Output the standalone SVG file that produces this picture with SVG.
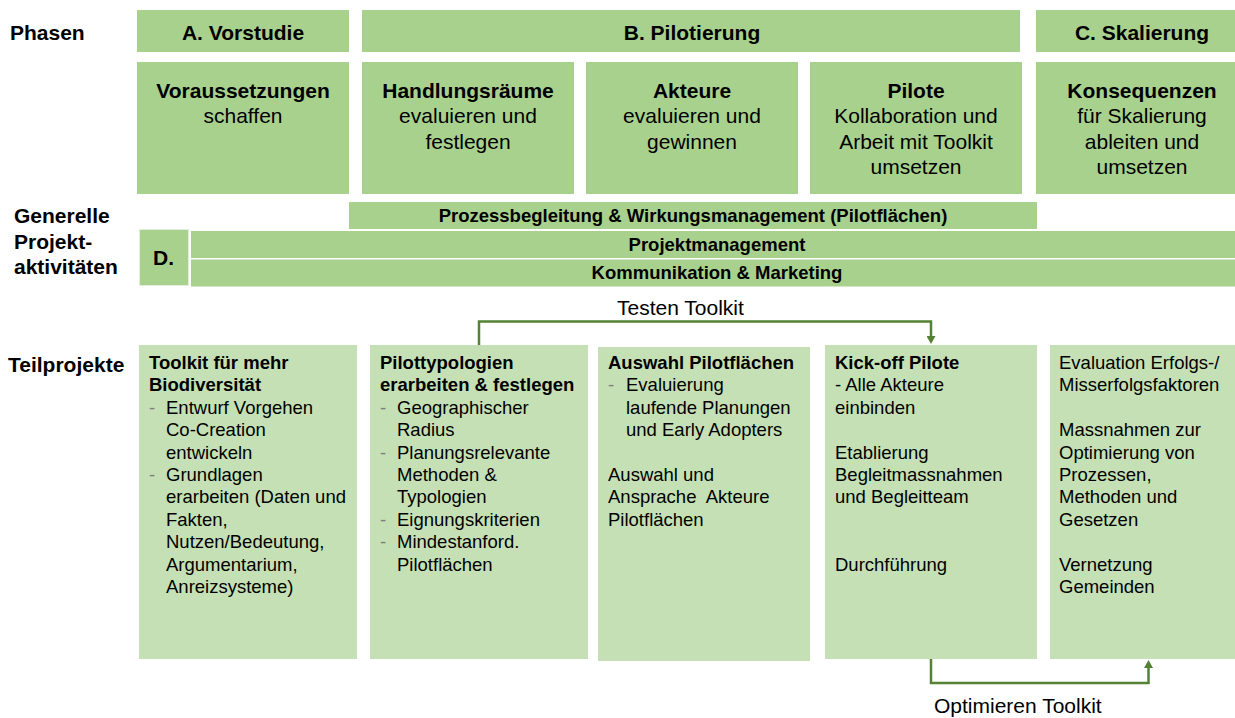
<svg xmlns="http://www.w3.org/2000/svg" width="1235" height="718" viewBox="0 0 1235 718">
<defs>
<style>
text{font-family:"Liberation Sans",Arial,sans-serif;fill:#000}
.h{font-size:21px;font-weight:bold}
.hm{font-size:21px;text-anchor:middle}
.b{font-size:18.5px;font-weight:bold}
.bm{font-size:18.5px;font-weight:bold;text-anchor:middle}
.t{font-size:18.5px}
.d{font-size:18.5px;fill:#7f7f7f}
.lbl{font-size:21px}
.dark{fill:#a9d18e}
.light{fill:#c5e0b4}
.conn{fill:none;stroke:#548235;stroke-width:2.5}
</style>
<marker id="ah" viewBox="0 0 10 10" refX="0" refY="5" markerWidth="8" markerHeight="9" markerUnits="userSpaceOnUse" orient="auto" preserveAspectRatio="none">
<path d="M0,0 L10,5 L0,10 z" fill="#548235"/>
</marker>
</defs>
<rect width="1235" height="718" fill="#fff"/>

<g id="labels">
<text class="h" x="10" y="40">Phasen</text>
<text class="h" x="14" y="223">Generelle</text>
<text class="h" x="14" y="249">Projekt-</text>
<text class="h" x="14" y="274">aktivitäten</text>
<text class="h" x="8" y="372">Teilprojekte</text>
</g>

<g id="phaseA"><rect class="dark" x="137" y="10" width="212" height="42"/><text class="h" x="243" y="40" text-anchor="middle">A. Vorstudie</text></g>
<g id="phaseB"><rect class="dark" x="362" y="10" width="658" height="42"/><text class="h" x="692" y="40" text-anchor="middle">B. Pilotierung</text></g>
<g id="phaseC"><rect class="dark" x="1036" y="10" width="199" height="42"/><text class="h" x="1142" y="40" text-anchor="middle">C. Skalierung</text></g>

<g id="voraussetzungen"><rect class="dark" x="137" y="62" width="212" height="132"/>
<text class="hm" x="243" y="98"><tspan font-weight="bold">Voraussetzungen</tspan><tspan x="243" dy="25.3">schaffen</tspan></text></g>
<g id="handlungsraeume"><rect class="dark" x="362" y="62" width="212" height="132"/>
<text class="hm" x="468" y="98"><tspan font-weight="bold">Handlungsräume</tspan><tspan x="468" dy="25.3">evaluieren und</tspan><tspan x="468" dy="25.3">festlegen</tspan></text></g>
<g id="akteure"><rect class="dark" x="586" y="62" width="212" height="132"/>
<text class="hm" x="692" y="98"><tspan font-weight="bold">Akteure</tspan><tspan x="692" dy="25.3">evaluieren und</tspan><tspan x="692" dy="25.3">gewinnen</tspan></text></g>
<g id="pilote"><rect class="dark" x="810" y="62" width="212" height="132"/>
<text class="hm" x="916" y="98"><tspan font-weight="bold">Pilote</tspan><tspan x="916" dy="25.3">Kollaboration und</tspan><tspan x="916" dy="25.3">Arbeit mit Toolkit</tspan><tspan x="916" dy="25.3">umsetzen</tspan></text></g>
<g id="konsequenzen"><rect class="dark" x="1036" y="62" width="199" height="132"/>
<text class="hm" x="1142" y="98"><tspan font-weight="bold">Konsequenzen</tspan><tspan x="1142" dy="25.3">für Skalierung</tspan><tspan x="1142" dy="25.3">ableiten und</tspan><tspan x="1142" dy="25.3">umsetzen</tspan></text></g>

<g id="prozessbegleitung"><rect class="dark" x="349" y="202" width="688" height="27"/><text class="bm" x="693" y="222">Prozessbegleitung &amp; Wirkungsmanagement (Pilotflächen)</text></g>
<g id="phaseD"><rect class="dark" x="139.5" y="229.5" width="49" height="56" stroke="#e2efda" stroke-width="1"/><text class="h" x="153" y="265">D.</text></g>
<g id="projektmanagement"><rect class="dark" x="191" y="231" width="1044" height="27"/><text class="bm" x="717" y="251">Projektmanagement</text></g>
<g id="kommunikation"><rect class="dark" x="191" y="259.5" width="1044" height="27"/><text class="bm" x="717" y="279">Kommunikation &amp; Marketing</text></g>

<g id="toolkit"><rect class="light" x="139" y="345" width="218" height="314"/>
<text class="b" x="149" y="369">Toolkit für mehr</text>
<text class="b" x="149" y="391.4">Biodiversität</text>
<text class="d" x="149" y="413.8">-</text>
<text class="t" x="166" y="413.8">Entwurf Vorgehen</text>
<text class="t" x="166" y="436.2">Co-Creation</text>
<text class="t" x="166" y="458.6">entwickeln</text>
<text class="d" x="149" y="481">-</text>
<text class="t" x="166" y="481">Grundlagen</text>
<text class="t" x="166" y="503.4">erarbeiten (Daten und</text>
<text class="t" x="166" y="525.8">Fakten,</text>
<text class="t" x="166" y="548.2">Nutzen/Bedeutung,</text>
<text class="t" x="166" y="570.6">Argumentarium,</text>
<text class="t" x="166" y="593">Anreizsysteme)</text>
</g>

<g id="pilottypologien"><rect class="light" x="370" y="345" width="218" height="314"/>
<text class="b" x="380" y="369">Pilottypologien</text>
<text class="b" x="380" y="391.4">erarbeiten &amp; festlegen</text>
<text class="d" x="380" y="413.8">-</text>
<text class="t" x="397" y="413.8">Geographischer</text>
<text class="t" x="397" y="436.2">Radius</text>
<text class="d" x="380" y="458.6">-</text>
<text class="t" x="397" y="458.6">Planungsrelevante</text>
<text class="t" x="397" y="481">Methoden &amp;</text>
<text class="t" x="397" y="503.4">Typologien</text>
<text class="d" x="380" y="525.8">-</text>
<text class="t" x="397" y="525.8">Eignungskriterien</text>
<text class="d" x="380" y="548.2">-</text>
<text class="t" x="397" y="548.2">Mindestanford.</text>
<text class="t" x="397" y="570.6">Pilotflächen</text>
</g>

<g id="auswahl"><rect class="light" x="598" y="347" width="212" height="314"/>
<text class="b" x="608" y="369">Auswahl Pilotflächen</text>
<text class="d" x="608" y="391.4">-</text>
<text class="t" x="626" y="391.4">Evaluierung</text>
<text class="t" x="626" y="413.8">laufende Planungen</text>
<text class="t" x="626" y="436.2">und Early Adopters</text>
<text class="t" x="608" y="481">Auswahl und</text>
<text class="t" x="608" y="503.4" xml:space="preserve">Ansprache  Akteure</text>
<text class="t" x="608" y="525.8">Pilotflächen</text>
</g>

<g id="kickoff"><rect class="light" x="825" y="345" width="212" height="314"/>
<text class="b" x="835" y="369">Kick-off Pilote</text>
<text class="t" x="835" y="391.4">- Alle Akteure</text>
<text class="t" x="835" y="413.8">einbinden</text>
<text class="t" x="835" y="458.6">Etablierung</text>
<text class="t" x="835" y="481">Begleitmassnahmen</text>
<text class="t" x="835" y="503.4">und Begleitteam</text>
<text class="t" x="835" y="570.6">Durchführung</text>
</g>

<g id="evaluation"><rect class="light" x="1050" y="345" width="185" height="314"/>
<text class="t" x="1059" y="369">Evaluation Erfolgs-/</text>
<text class="t" x="1059" y="391.4">Misserfolgsfaktoren</text>
<text class="t" x="1059" y="436.2">Massnahmen zur</text>
<text class="t" x="1059" y="458.6">Optimierung von</text>
<text class="t" x="1059" y="481">Prozessen,</text>
<text class="t" x="1059" y="503.4">Methoden und</text>
<text class="t" x="1059" y="525.8">Gesetzen</text>
<text class="t" x="1059" y="570.6">Vernetzung</text>
<text class="t" x="1059" y="593">Gemeinden</text>
</g>

<g id="connectors">
<path class="conn" d="M479,345 V321.5 H931 V336" marker-end="url(#ah)"/>
<text class="lbl" x="617" y="315">Testen Toolkit</text>
<path class="conn" d="M931,659 V683 H1148.5 V668" marker-end="url(#ah)"/>
<text class="lbl" x="934" y="713">Optimieren Toolkit</text>
</g>
</svg>
